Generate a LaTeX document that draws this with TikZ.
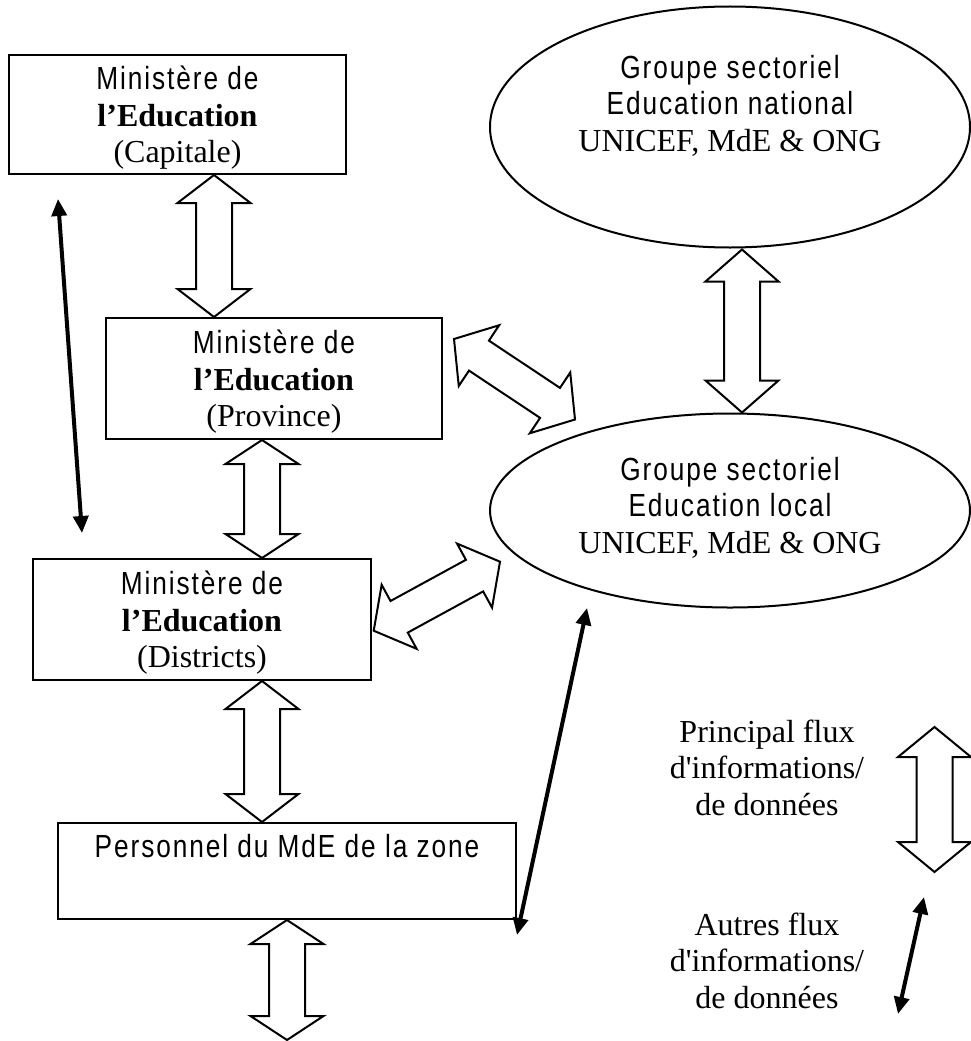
\documentclass[tikz,border=0pt]{standalone}
\usepackage{fontspec}
\usetikzlibrary{calc,arrows.meta,shapes.geometric}

% Times-like serif and a narrow, tracked sans for the organisation names
\newfontfamily\tnr{Liberation Serif}
\newfontfamily\narrow{Liberation Sans}[FakeStretch=0.82,LetterSpace=6]

% struts that fix the first-line height and last-line depth of a label
\newcommand{\topstrut}{\rule{0pt}{31pt}}
\newcommand{\botstrut}{\rule[-8pt]{0pt}{8pt}}

% hollow double-headed block arrow between two points; #1 = head length
\newcommand{\fluxarrow}[3][28pt]{%
  \draw[flux] (#2)
    -- ($($(#2)!#1!(#3)$)!36.5pt!90:(#3)$)
    -- ($($(#2)!#1!(#3)$)!18pt!90:(#3)$)
    -- ($($(#3)!#1!(#2)$)!18pt!-90:(#2)$)
    -- ($($(#3)!#1!(#2)$)!36.5pt!-90:(#2)$)
    -- (#3)
    -- ($($(#3)!#1!(#2)$)!36.5pt!90:(#2)$)
    -- ($($(#3)!#1!(#2)$)!18pt!90:(#2)$)
    -- ($($(#2)!#1!(#3)$)!18pt!-90:(#3)$)
    -- ($($(#2)!#1!(#3)$)!36.5pt!-90:(#3)$)
    -- cycle;}

\tikzset{
  office/.style={draw, line width=2pt, align=center, inner sep=0pt},
  group/.style={draw, ellipse, line width=2pt, inner sep=0pt},
  label/.style={align=center, inner sep=0pt},
  flux/.style={draw, fill=white, line width=2pt, line join=miter},
  other/.style={line width=4pt,
    {Triangle[length=17pt,width=15pt]}-{Triangle[length=17pt,width=15pt]}},
}

\begin{document}
\begin{tikzpicture}[x=1pt, y=-1pt, font=\fontsize{32pt}{36.5pt}\selectfont\tnr]
\useasboundingbox (0,0) rectangle (971,1041);

% ministry offices
\node[office, minimum width=337pt, minimum height=119pt] (cap) at (177.5,114.5)
  {{\narrow\topstrut Ministère de}\\ {\tnr\bfseries l’Education}\\ {\tnr (Capitale)\botstrut}};
\node[office, minimum width=336pt, minimum height=121pt] (prov) at (274,378.5)
  {{\narrow\topstrut Ministère de}\\ {\tnr\bfseries l’Education}\\ {\tnr (Province)\botstrut}};
\node[office, minimum width=338pt, minimum height=121pt] (dist) at (202,619.5)
  {{\narrow\topstrut Ministère de}\\ {\tnr\bfseries l’Education}\\ {\tnr (Districts)\botstrut}};
\node[office, minimum width=458pt, minimum height=96pt] (zone) at (287,871)
  {{\narrow\topstrut Personnel du MdE de la zone}\\ \rule[-22.5pt]{0pt}{22.5pt}};

% sector groups
\node[group, minimum width=480pt, minimum height=241pt] (gnat) at (730,127) {};
\node[label] (gnat-t) at (730,103)
  {{\narrow\topstrut Groupe sectoriel}\\ {\narrow Education national}\\ {\tnr UNICEF, MdE \& ONG\botstrut}};
\node[group, minimum width=480pt, minimum height=194pt] (gloc) at (730,510.5) {};
\node[label] (gloc-t) at (730,505)
  {{\narrow\topstrut Groupe sectoriel}\\ {\narrow Education local}\\ {\tnr UNICEF, MdE \& ONG\botstrut}};

% legend texts
\node[label] (leg-main) at (767,767)
  {\topstrut Principal flux\\ d'informations/\\ de données\botstrut};
\node[label] (leg-other) at (767,960)
  {\topstrut Autres flux\\ d'informations/\\ de données\botstrut};

% end points of the block arrows
\coordinate (a1s) at ($(cap.south)+(36.5,0)$);
\coordinate (a1e) at ($(prov.north)+(-60,0)$);
\coordinate (a2s) at ($(prov.south)+(-12,0)$);
\coordinate (a2e) at ($(dist.north)+(60,0)$);
\coordinate (a3s) at ($(dist.south)+(60,0)$);
\coordinate (a3e) at ($(zone.north)+(-25,0)$);
\coordinate (a4e) at ($(zone.south)+(0,120)$);
\coordinate (a5s) at ($(gnat.south)+(12,1)$);
\coordinate (a5e) at ($(gloc.north)+(12,0)$);
\coordinate (a6s) at ($(prov.east)+(11,-39.5)$);
\coordinate (a6e) at (575,419.5);
\coordinate (a7s) at ($(dist.east)+(1.7,11.2)$);
\coordinate (a7e) at (500,561.7);
\coordinate (leg-a) at (934.5,727);
\coordinate (leg-b) at (934.5,872);

\fluxarrow[28pt]{a1s}{a1e}
\fluxarrow[24pt]{a2s}{a2e}
\fluxarrow[28pt]{a3s}{a3e}
\fluxarrow[24pt]{zone.south}{a4e}
\fluxarrow[32pt]{a5s}{a5e}
\fluxarrow[30pt]{a6s}{a6e}
\fluxarrow[29pt]{a7s}{a7e}
\fluxarrow[30pt]{leg-a}{leg-b}

% secondary flows
\coordinate (t1a) at (58,199);
\coordinate (t1b) at (82,533);
\coordinate (t2a) at (587,608);
\coordinate (t2b) at (517,935);
\coordinate (t3a) at (924,897);
\coordinate (t3b) at (898,1014);
\draw[other] (t1a) -- (t1b);
\draw[other] (t2a) -- (t2b);
\draw[other] (t3a) -- (t3b);
\end{tikzpicture}
\end{document}
